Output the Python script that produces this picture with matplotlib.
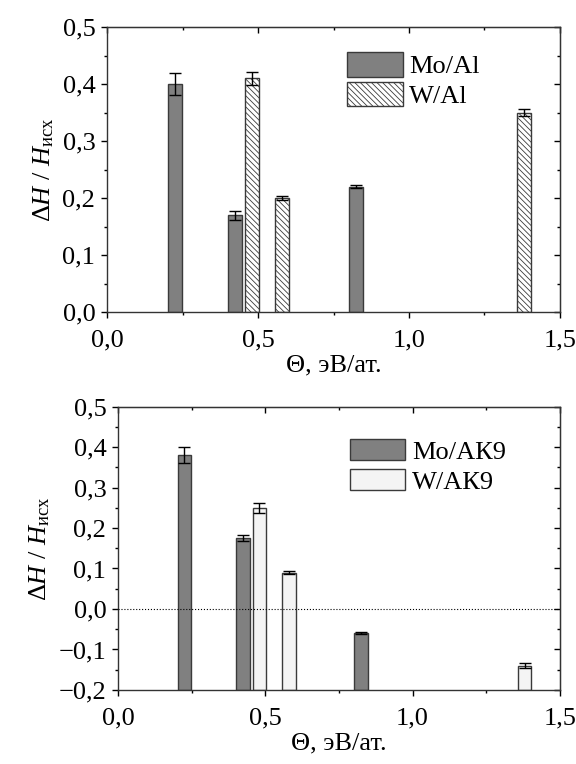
import matplotlib
matplotlib.use("Agg")
import matplotlib.pyplot as plt
from matplotlib.ticker import MultipleLocator, FuncFormatter

plt.rcParams['font.family'] = ['Liberation Serif', 'DejaVu Serif']
plt.rcParams['mathtext.fontset'] = 'custom'
plt.rcParams['mathtext.rm'] = 'Liberation Serif'
plt.rcParams['mathtext.it'] = 'Liberation Serif:italic'
plt.rcParams['hatch.linewidth'] = 0.6

# positions (eV/atom)
mo_x = [0.225, 0.425, 0.825]
w_x = [0.48, 0.58, 1.38]

# top panel: Al
mo_al = [0.40, 0.17, 0.22]
mo_al_err = [0.02, 0.008, 0.003]
w_al = [0.41, 0.20, 0.35]
w_al_err = [0.012, 0.004, 0.006]

# bottom panel: AK9
mo_ak = [0.38, 0.175, -0.06]
mo_ak_err = [0.02, 0.008, 0.003]
w_ak = [0.25, 0.09, -0.14]
w_ak_err = [0.012, 0.004, 0.006]

bar_w = 0.046
fs = 19
xlabel = 'Θ, эВ/ат.'
ylabel = 'Δ$H$ / $H_{\\mathrm{исх}}$'


def fmt(v, pos):
    s = f'{v:.1f}'.replace('.', ',')
    if s.startswith('-'):
        s = '\u2212' + s[1:]
    if s == '\u22120,0':
        s = '0,0'
    return s


def style_axes(ax, ymin, ymax):
    ax.set_xlim(0, 1.5)
    ax.set_ylim(ymin, ymax)
    ax.xaxis.set_major_locator(MultipleLocator(0.5))
    ax.xaxis.set_minor_locator(MultipleLocator(0.25))
    ax.yaxis.set_major_locator(MultipleLocator(0.1))
    ax.yaxis.set_minor_locator(MultipleLocator(0.05))
    ax.xaxis.set_major_formatter(FuncFormatter(fmt))
    ax.yaxis.set_major_formatter(FuncFormatter(fmt))
    ax.tick_params(which='both', direction='out', labelsize=fs, width=1)
    ax.tick_params(which='major', length=4.5)
    ax.tick_params(which='minor', length=2.5)
    ax.tick_params(axis='x', which='major', pad=8)
    ax.tick_params(axis='y', which='major', pad=4)
    for s in ax.spines.values():
        s.set_linewidth(1.0)
        s.set_color('#333333')
    top = ax.secondary_xaxis('top')
    top.xaxis.set_major_locator(MultipleLocator(0.5))
    top.xaxis.set_minor_locator(MultipleLocator(0.25))
    top.tick_params(which='both', direction='in', labeltop=False, width=1)
    top.tick_params(which='major', length=4.5)
    top.tick_params(which='minor', length=2.5)
    right = ax.secondary_yaxis('right')
    right.yaxis.set_major_locator(MultipleLocator(0.1))
    right.yaxis.set_minor_locator(MultipleLocator(0.05))
    right.tick_params(which='both', direction='in', labelright=False, width=1)
    right.tick_params(which='major', length=4.5)
    right.tick_params(which='minor', length=2.5)
    ax.set_xlabel(xlabel, fontsize=fs, labelpad=2)
    ax.set_ylabel(ylabel, fontsize=fs, labelpad=5)


fig = plt.figure(figsize=(5.76, 7.64), dpi=100)

# ---- top panel
ax1 = fig.add_axes([0.186, 0.5916, 0.786, 0.373])
ax1.bar(mo_x, mo_al, width=bar_w, color='#808080', edgecolor='#3a3a3a',
        linewidth=1, label='Mo/Al', zorder=2)
ax1.bar(w_x, w_al, width=bar_w, color='white', edgecolor='#3a3a3a',
        hatch='\\\\\\\\\\\\', linewidth=1, label='W/Al', zorder=2)
ax1.errorbar(mo_x, mo_al, yerr=mo_al_err, fmt='none', ecolor='black',
             elinewidth=1, capsize=4.5, capthick=1, zorder=3)
ax1.errorbar(w_x, w_al, yerr=w_al_err, fmt='none', ecolor='black',
             elinewidth=1, capsize=4.5, capthick=1, zorder=3)
style_axes(ax1, 0, 0.5)
ax1.legend(loc='upper left', bbox_to_anchor=(0.53, 0.912), frameon=False,
           fontsize=fs, handlelength=2.1, handleheight=1.05,
           labelspacing=0.12, handletextpad=0.25, borderpad=0, borderaxespad=0)

# ---- bottom panel
ax2 = fig.add_axes([0.205, 0.0969, 0.767, 0.371])
ax2.bar(mo_x, [v + 0.2 for v in mo_ak], bottom=-0.2, width=bar_w,
        color='#808080', edgecolor='#3a3a3a', linewidth=1, label='Mo/АК9', zorder=2)
ax2.bar(w_x, [v + 0.2 for v in w_ak], bottom=-0.2, width=bar_w,
        color='#f4f4f4', edgecolor='#3a3a3a', linewidth=1, label='W/АК9', zorder=2)
ax2.errorbar(mo_x, mo_ak, yerr=mo_ak_err, fmt='none', ecolor='black',
             elinewidth=1, capsize=4.5, capthick=1, zorder=3)
ax2.errorbar(w_x, w_ak, yerr=w_ak_err, fmt='none', ecolor='black',
             elinewidth=1, capsize=4.5, capthick=1, zorder=3)
ax2.axhline(0, color='black', linestyle=':', linewidth=0.8, zorder=4)
style_axes(ax2, -0.2, 0.5)
ax2.legend(loc='upper left', bbox_to_anchor=(0.525, 0.885), frameon=False,
           fontsize=fs, handlelength=2.1, handleheight=0.85,
           labelspacing=0.2, handletextpad=0.25, borderpad=0, borderaxespad=0)

fig.savefig('out.png', dpi=100)
